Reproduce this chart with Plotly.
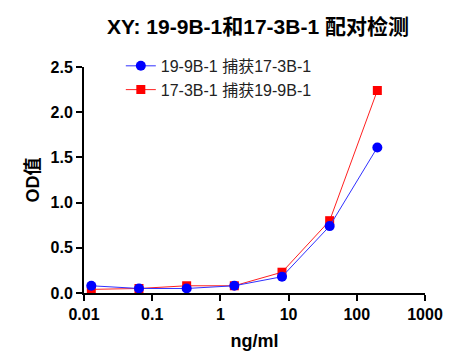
import plotly.graph_objects as go

conc = [0.0128, 0.064, 0.32, 1.6, 8, 40, 200]
blue_vals = [0.08, 0.05, 0.05, 0.08, 0.18, 0.74, 1.61]
red_vals = [0.04, 0.05, 0.08, 0.08, 0.23, 0.80, 2.24]
blue_name = "19-9B-1 捕获17-3B-1"
red_name = "17-3B-1 捕获19-9B-1"
x_ticks = [0.01, 0.1, 1, 10, 100, 1000]
x_tick_labels = ["0.01", "0.1", "1", "10", "100", "1000"]
y_ticks = [0, 0.5, 1.0, 1.5, 2.0, 2.5]
y_tick_labels = ["0.0", "0.5", "1.0", "1.5", "2.0", "2.5"]

fig = go.Figure()
fig.add_trace(go.Scatter(x=conc, y=red_vals, name=red_name, mode="lines+markers",
                         line=dict(color="#ff2020", width=1),
                         marker=dict(symbol="square", size=9, color="#ff0000"),
                         cliponaxis=False))
fig.add_trace(go.Scatter(x=conc, y=blue_vals, name=blue_name, mode="lines+markers",
                         line=dict(color="#3030ff", width=1),
                         marker=dict(symbol="circle", size=10, color="#0000ff"),
                         cliponaxis=False))

font_family = "Liberation Sans, Arial, Noto Sans CJK SC, sans-serif"
fig.update_layout(
    width=454, height=352,
    margin=dict(l=76, r=37, t=59, b=65),
    plot_bgcolor="white", paper_bgcolor="white",
    font=dict(family=font_family, color="black"),
    title=dict(text="<b>XY: 19-9B-1和17-3B-1 配对检测</b>", x=250 / 454, xanchor="center",
               y=1 - 19 / 352, yanchor="middle", font=dict(size=21, color="black")),
    showlegend=True,
    legend=dict(x=0.108, y=1.08, xanchor="left", yanchor="top", bgcolor="rgba(0,0,0,0)",
                font=dict(size=16, color="#222"), traceorder="reversed",
                itemwidth=30, tracegroupgap=0),
    xaxis=dict(type="log", range=[-2, 3], tickvals=x_ticks,
               ticktext=["<b>%s</b>" % t for t in x_tick_labels],
               showgrid=False, zeroline=False, showline=True, linecolor="black", linewidth=2,
               ticks="outside", ticklen=6, tickwidth=2, tickcolor="black",
               tickfont=dict(size=16, color="black", family=font_family),
               title=dict(text="<b>ng/ml</b>", font=dict(size=18), standoff=12)),
    yaxis=dict(range=[0, 2.5], tickvals=y_ticks,
               ticktext=["<b>%s</b>" % t for t in y_tick_labels],
               showgrid=False, zeroline=False, showline=True, linecolor="black", linewidth=2,
               ticks="outside", ticklen=6, tickwidth=2, tickcolor="black",
               tickfont=dict(size=16, color="black", family=font_family),
               title=dict(text="<b>OD值</b>", font=dict(size=18), standoff=6)),
)
fig.write_html("out.html")
